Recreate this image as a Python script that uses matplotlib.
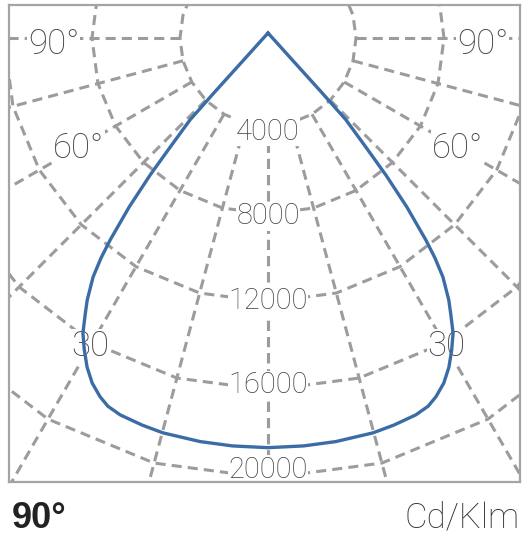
import numpy as np
import matplotlib
matplotlib.use("Agg")
import matplotlib.pyplot as plt

plt.rcParams['font.family'] = ['Roboto', 'Liberation Sans', 'DejaVu Sans']

# luminous intensity (cd/klm) against angle gamma (deg), symmetric curve
gamma = [0, 5, 9.55, 14.9, 18, 21.4, 23.5, 25.1, 27, 28.8, 30.5, 32.1, 33.5,
         34.6, 36.2, 37.2, 38, 39.4, 40.7, 41.8, 43.6, 44.6, 46.2, 49.3,
         53.7, 70.3, 111, 180]
intensity = [18620, 18610, 18600, 18570, 18500, 18400, 18250, 18000, 17600,
             17070, 16450, 15830, 15050, 14470, 13460, 12550, 11660, 9945,
             8220, 6750, 5140, 3470, 2110, 1205, 756, 323, 163, 227]

ring_values = [4000, 8000, 12000, 16000, 20000]
spoke_angles = [0, 15, 30, 45, 60, 75, 90]
angle_labels = ['90°', '60°', '30']
angle_label_x = [9750, 8600, 8100]
angle_label_y = [-270, -5020, -14020]

grid_col = '#9c9c9c'
dash = (0, (3.3, 2.0))

fig = plt.figure(figsize=(5.23, 5.35), dpi=100)
ax = fig.add_axes([9 / 523, (535 - 482) / 535, 511 / 523, 477 / 535])

# rings, drawn as polygons through the spokes
ring_ang = np.radians(np.arange(0, 361, 15))
for r in ring_values:
    ax.plot(r * np.sin(ring_ang), -r * np.cos(ring_ang), color=grid_col,
            lw=2.2, linestyle=dash, zorder=1)

# spokes start at the first ring
for a in spoke_angles:
    for side in (-1, 1):
        t = np.radians(a) * side
        rr = np.array([ring_values[0], 30000])
        ax.plot(rr * np.sin(t), -rr * np.cos(t), color=grid_col,
                lw=2.2, linestyle=dash, zorder=1)

lbl_box = dict(fc='white', ec='none', pad=0.5)
for v in ring_values:
    ax.text(0, -(v * 0.96 + 415), str(v), ha='center', va='center',
            fontsize=21, fontweight='light', color='#444444',
            bbox=lbl_box, zorder=2)

for txt, lx, ly in zip(angle_labels, angle_label_x, angle_label_y):
    for side in (-1, 1):
        ax.text(side * lx, ly, txt, ha='center', va='center', fontsize=25,
                fontweight='light', color='#444444', bbox=lbl_box, zorder=2)

# curve
g = np.radians(np.array(gamma))
I = np.array(intensity)
g_full = np.concatenate([-g[::-1], g[1:]])
I_full = np.concatenate([I[::-1], I[1:]])
ax.plot(I_full * np.sin(g_full), -I_full * np.cos(g_full), color='#3b6ca6',
        lw=2.4, solid_joinstyle='round', zorder=5)

k = 45.45
ax.set_xlim((9 - 268) * k, (520 - 268) * k)
ax.set_ylim(-(482 - 38) * k, (38 - 5) * k)
ax.set_xticks([])
ax.set_yticks([])
for s in ax.spines.values():
    s.set_color('#a4a4a4')
    s.set_linewidth(1.6)
    s.set_zorder(6)

fig.text(12 / 523, 7 / 535, '90°', fontsize=26, fontweight='bold',
         color='#222222', ha='left', va='baseline',
         family=['Liberation Sans', 'DejaVu Sans'])
fig.text(520 / 523, 7 / 535, 'Cd/Klm', fontsize=25, color='#333333',
         ha='right', va='baseline', fontweight='light')

fig.savefig('out.png', dpi=100)
